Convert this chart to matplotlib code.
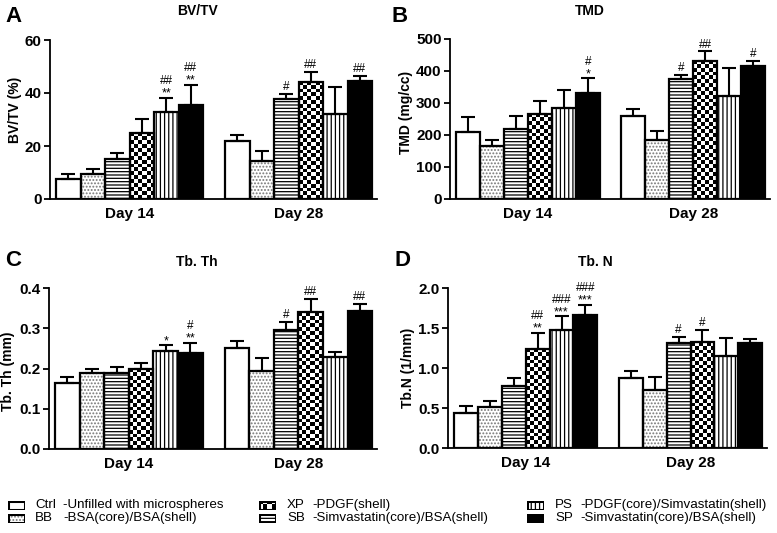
import numpy as np
import matplotlib
matplotlib.use("Agg")
import matplotlib.pyplot as plt

plt.rcParams['font.family'] = ['Liberation Sans', 'DejaVu Sans']
plt.rcParams['hatch.linewidth'] = 0.9

W, H = 777, 533

groups = ['Day 14', 'Day 28']
codes = ['Ctrl', 'BB', 'SB', 'XP', 'PS', 'SP']

# rows: Day 14, Day 28 ; columns follow codes
bvtv_mean = [[7.6, 9.6, 15.2, 25.0, 32.9, 35.3], [21.9, 14.2, 37.6, 44.3, 32.2, 44.7]]
bvtv_err = [[1.8, 1.6, 2.2, 5.1, 5.4, 7.9], [2.4, 3.8, 2.0, 3.7, 10.0, 1.9]]
bvtv_star = [['', '', '', '', '**', '**'], ['', '', '', '', '', '']]
bvtv_hash = [['', '', '', '', '##', '##'], ['', '', '#', '##', '', '##']]

tmd_mean = [[209, 167, 218, 266, 283, 331], [258, 183, 375, 432, 323, 416]]
tmd_err = [[47, 18, 42, 39, 58, 46], [23, 31, 12, 29, 86, 15]]
tmd_star = [['', '', '', '', '', '*'], ['', '', '', '', '', '']]
tmd_hash = [['', '', '', '', '', '#'], ['', '', '#', '##', '', '#']]

tbth_mean = [[0.163, 0.189, 0.189, 0.200, 0.243, 0.239], [0.250, 0.193, 0.296, 0.340, 0.229, 0.344]]
tbth_err = [[0.016, 0.011, 0.014, 0.014, 0.015, 0.025], [0.019, 0.032, 0.020, 0.033, 0.013, 0.016]]
tbth_star = [['', '', '', '', '*', '**'], ['', '', '', '', '', '']]
tbth_hash = [['', '', '', '', '', '#'], ['', '', '#', '##', '', '##']]

tbn_mean = [[0.44, 0.51, 0.78, 1.24, 1.47, 1.66], [0.87, 0.72, 1.31, 1.32, 1.15, 1.31]]
tbn_err = [[0.08, 0.08, 0.09, 0.20, 0.18, 0.13], [0.09, 0.17, 0.08, 0.16, 0.23, 0.05]]
tbn_star = [['', '', '', '**', '***', '***'], ['', '', '', '', '', '']]
tbn_hash = [['', '', '', '##', '###', '###'], ['', '', '#', '#', '', '']]

legend_desc = {
    'Ctrl': '-Unfilled with microspheres',
    'BB': '-BSA(core)/BSA(shell)',
    'XP': '-PDGF(shell)',
    'SB': '-Simvastatin(core)/BSA(shell)',
    'PS': '-PDGF(core)/Simvastatin(shell)',
    'SP': '-Simvastatin(core)/BSA(shell)',
}

styles = {
    'Ctrl': dict(color='white', hatch=None, hc='black'),
    'BB': dict(color='white', hatch='.....', hc='#777777'),
    'SB': dict(color='white', hatch='-----', hc='black'),
    'XP': dict(color='white', hatch=None, hc='black'),
    'PS': dict(color='white', hatch='||||', hc='black'),
    'SP': dict(color='black', hatch=None, hc='black'),
}


def rect(x0, y0, x1, y1):
    # pixel box -> figure fraction
    return [x0 / W, 1 - y1 / H, (x1 - x0) / W, (y1 - y0) / H]


def checker(ax, patches, sq_px=3.8):
    for p in patches:
        (px0, py0), (px1, py1) = ax.transData.transform(
            [(p.get_x(), 0), (p.get_x() + p.get_width(), p.get_height())])
        ncol = max(1, int(round(abs(px1 - px0) / sq_px)))
        nrow = max(1, int(round(abs(py1 - py0) / sq_px)))
        board = (np.add.outer(np.arange(nrow), np.arange(ncol)) % 2).astype(float)
        im = ax.imshow(board, extent=(p.get_x(), p.get_x() + p.get_width(), 0, p.get_height()),
                       cmap='gray', interpolation='nearest', aspect='auto', zorder=1.5)
        im.set_clip_path(p)


def draw_bars(ax, x, h, code, lw=1.6):
    st = styles[code]
    base = ax.bar(x, h, width=1.0, color=st['color'], hatch=st['hatch'],
                  edgecolor=st['hc'], linewidth=0, zorder=1)
    if code == 'XP':
        checker(ax, base.patches)
    ax.bar(x, h, width=1.0, fill=False, edgecolor='black', linewidth=lw, zorder=2)


fig = plt.figure(figsize=(W / 100, H / 100), dpi=100)

panels = [
    ('A', 'BV/TV', 'BV/TV (%)', bvtv_mean, bvtv_err, bvtv_star, bvtv_hash,
     (50, 40, 377, 199), 60, [0, 20, 40, 60], (14, 17), (197, 11), -0.086, 0.56),
    ('B', 'TMD', 'TMD (mg/cc)', tmd_mean, tmd_err, tmd_star, tmd_hash,
     (450, 39, 770, 199), 500, [0, 100, 200, 300, 400, 500], (400, 17), (590, 11), -0.116, 0.54),
    ('C', 'Tb. Th', 'Tb. Th (mm)', tbth_mean, tbth_err, tbth_star, tbth_hash,
     (49, 288, 377, 449), 0.4, [0.0, 0.1, 0.2, 0.3, 0.4], (13, 261), (197, 262), -0.104, 0.48),
    ('D', 'Tb. N', 'Tb.N (1/mm)', tbn_mean, tbn_err, tbn_star, tbn_hash,
     (448, 288, 767, 448), 2.0, [0.0, 0.5, 1.0, 1.5, 2.0], (403, 261), (595, 262), -0.103, 0.5),
]

group_left = [0.25, 7.15]

for letter, title, ylab, mean, err, star, hsh, box, ymax, yt, lpos, tpos, lx, ly in panels:
    ax = fig.add_axes(rect(*box))
    ax.set_xlim(0, 13.35)
    ax.set_ylim(0, ymax)
    for g in range(2):
        for i, code in enumerate(codes):
            xc = group_left[g] + i + 0.5
            draw_bars(ax, [xc], [mean[g][i]], code)
            ax.errorbar([xc], [mean[g][i]], yerr=[[0], [err[g][i]]], fmt='none',
                        ecolor='black', elinewidth=1.5, capsize=4.8, capthick=1.5, zorder=3)
            top = mean[g][i] + err[g][i]
            off = 0.5
            if star[g][i]:
                ax.annotate(star[g][i], (xc, top), xytext=(0, -1.5), textcoords='offset points',
                            ha='center', va='bottom', fontsize=9)
                off = 7.5
            if hsh[g][i]:
                ax.annotate(hsh[g][i], (xc, top), xytext=(0, off), textcoords='offset points',
                            ha='center', va='bottom', fontsize=8.5)
    ax.set_xlim(0, 13.35)
    ax.set_ylim(0, ymax)
    ax.set_yticks(yt)
    if ymax < 10:
        ax.set_yticklabels([f'{v:.1f}' for v in yt])
    ax.set_xticks([group_left[0] + 3, group_left[1] + 3])
    ax.set_xticklabels(groups, fontsize=11, fontweight='bold')
    ax.tick_params(axis='x', length=0, pad=6)
    ax.tick_params(axis='y', length=4, width=1.3, pad=2, labelsize=11)
    for t in ax.get_yticklabels():
        t.set_fontweight('bold')
    for s in ['top', 'right']:
        ax.spines[s].set_visible(False)
    for s in ['left', 'bottom']:
        ax.spines[s].set_linewidth(1.3)
    ax.set_ylabel(ylab, fontsize=10, fontweight='bold')
    ax.yaxis.set_label_coords(lx, ly)
    fig.text(lpos[0] / W, 1 - lpos[1] / H, letter, fontsize=16, fontweight='bold',
             ha='center', va='center')
    fig.text(tpos[0] / W, 1 - tpos[1] / H, title, fontsize=10, fontweight='bold',
             ha='center', va='center')

# legend
leg_cols = [(['Ctrl', 'BB'], 8, 35, 63), (['XP', 'SB'], 259, 287, 312), (['PS', 'SP'], 527, 555, 580)]
leg_rows = [505, 518]
for names, sx, ax_txt, dx in leg_cols:
    for code, yy in zip(names, leg_rows):
        sw = fig.add_axes(rect(sx, yy - 4.5, sx + 17, yy + 4.5))
        sw.set_axis_off()
        sw.set_xlim(0, 1)
        sw.set_ylim(0, 1)
        draw_bars(sw, [0.5], [1.0], code, lw=2.2)
        sw.set_xlim(0, 1)
        sw.set_ylim(0, 1)
        fig.text(ax_txt / W, 1 - yy / H, code, fontsize=9.6, ha='left', va='center',
                 family=['Liberation Sans Narrow', 'Liberation Sans'])
        fig.text(dx / W, 1 - yy / H, legend_desc[code], fontsize=9.6, ha='left', va='center',
                 family=['Liberation Sans Narrow', 'Liberation Sans'])

fig.savefig('out.png', dpi=100)
